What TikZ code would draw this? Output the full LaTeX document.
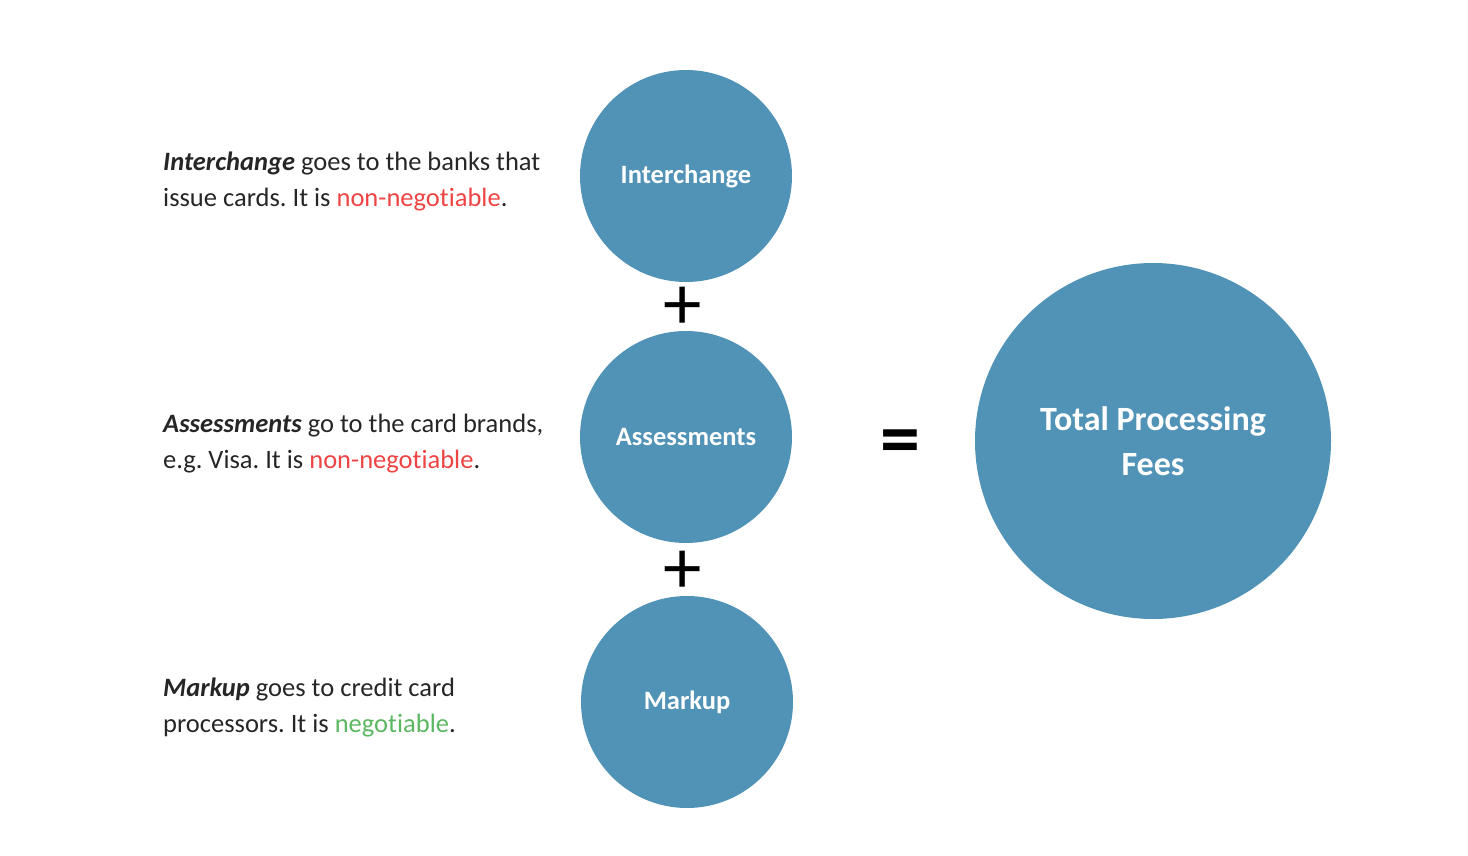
\documentclass[tikz,border=0pt]{standalone}
\usepackage{fontspec}
\setmainfont{Carlito}[Ligatures=NoCommon]
\frenchspacing
\usetikzlibrary{positioning}
\definecolor{feeblue}{HTML}{5193B7}
\definecolor{nonneg}{HTML}{EE4444}
\definecolor{neg}{HTML}{5CB761}
\definecolor{ink}{HTML}{262626}
\begin{document}
\begin{tikzpicture}[x=1pt,y=-1pt,line cap=round,
	fee/.style={circle,fill=feeblue,text=white,inner sep=0pt,minimum size=212pt,align=center,font=\fontsize{26.5}{30}\selectfont\bfseries},
	note/.style={anchor=west,align=left,inner sep=0pt,text=ink,font=\fontsize{26.5}{36}\selectfont},
	op/.style={inner sep=0pt,text=black,font=\fontsize{77}{77}\selectfont}]
	\useasboundingbox (0,0) rectangle (1468,856);
	\node[fee] (inter) at (686,176) {Interchange};
	\node[fee] (assess) at (686,437) {Assessments};
	\node[fee] (markup) at (687,702) {Markup};
	\node[fee,minimum size=356pt,font=\fontsize{34}{45}\selectfont\bfseries] (total) at (1153,441) {Total Processing\\Fees};
	\node[op] (plusa) at (683,308) {+};
	\node[op] (plusb) at (683,572) {+};
	\node[op,font=\fontsize{80}{80}\selectfont\bfseries] (equal) at (900,448) {=};
	\node[note] (interinfo) at (163,181) {\textbf{\textit{Interchange}} goes to the banks that\\issue cards. It is \textcolor{nonneg}{non-negotiable}.};
	\node[note] (assessinfo) at (163,444) {\textbf{\textit{Assessments}} go to the card brands,\\e.g. Visa. It is \textcolor{nonneg}{non-negotiable}.};
	\node[note] (markupinfo) at (163,707) {\textbf{\textit{Markup}} goes to credit card\\processors. It is \textcolor{neg}{negotiable}.};
\end{tikzpicture}
\end{document}
